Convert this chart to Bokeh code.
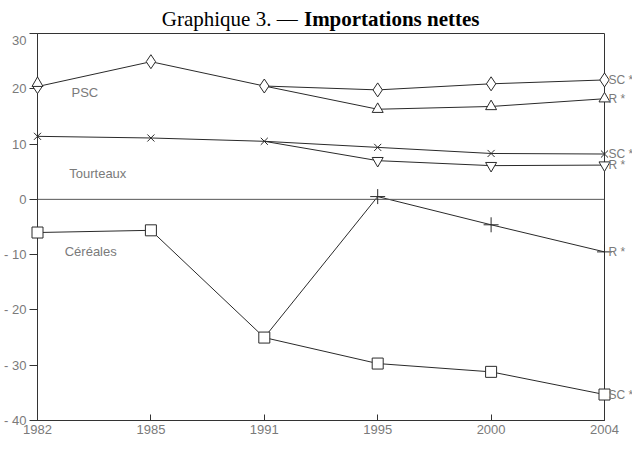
from bokeh.plotting import figure
from bokeh.models import (ColumnDataSource, FixedTicker, Label, Span, Range1d)
from bokeh.core.properties import value
from bokeh.layouts import column
from bokeh.embed import file_html
from bokeh.resources import INLINE

nan = float("nan")

years = ["1982", "1985", "1991", "1995", "2000", "2004"]
y_ticks = [30, 20, 10, 0, -10, -20, -30, -40]
y_tick_labels = ["30", "20", "10", "0", "- 10", "- 20", "- 30", "- 40"]

psc_sc = [20.4, 24.9, 20.5, 19.8, 20.9, 21.6]
psc_r = [21.0, nan, 20.5, 16.3, 16.8, 18.2]
tourteaux_sc = [11.4, 11.1, 10.5, 9.4, 8.3, 8.2]
tourteaux_r = [nan, nan, 10.5, 7.0, 6.1, 6.2]
cereales_sc = [-6.0, -5.6, -25.0, -29.7, -31.2, -35.3]
cereales_r = [nan, nan, -25.0, 0.5, -4.6, -9.5]

group_names = ["PSC", "Tourteaux", "Céréales"]
group_label_x = [0.3, 0.28, 0.24]
group_label_y = [19.3, 4.7, -9.4]

title_normal = "Graphique 3. —"
title_bold = "Importations nettes"

idx = list(range(len(years)))
grey = "#7a7a7a"
line_col = "#2a2a2a"
W = 632

# ---- title strip ----
TH = 32
t = figure(width=W, height=TH, output_backend="svg", toolbar_location=None,
           x_range=Range1d(0, W), y_range=Range1d(0, TH),
           x_axis_location=None, y_axis_location=None,
           min_border=0, outline_line_color=None)
t.grid.visible = False
t.add_layout(Label(x=290, y=14, text=title_normal, text_align="right",
                   text_baseline="alphabetic", text_font="Liberation Serif",
                   text_font_size="21px", text_color="black"))
t.add_layout(Label(x=297, y=14, text=title_bold, text_align="left",
                   text_baseline="alphabetic", text_font="Liberation Serif",
                   text_font_size="21px", text_font_style="bold",
                   text_color="black"))

# ---- main chart ----
p = figure(width=W, height=436 - TH, output_backend="svg", toolbar_location=None,
           x_range=Range1d(0, len(years) - 1), y_range=Range1d(-40, 30),
           min_border_left=37, min_border_right=28, min_border_top=1,
           min_border_bottom=0)
p.outline_line_color = "#333333"
p.outline_line_width = 1
p.grid.visible = False

p.xaxis.ticker = FixedTicker(ticks=idx)
p.xaxis.major_label_overrides = {i: y for i, y in enumerate(years)}
p.yaxis.ticker = FixedTicker(ticks=y_ticks)
p.yaxis.major_label_overrides = {tk: l for tk, l in zip(y_ticks, y_tick_labels)}
for ax in (p.xaxis, p.yaxis):
    ax.axis_line_color = "#333333"
    ax.major_tick_line_color = "#333333"
    ax.minor_tick_line_color = None
    ax.major_label_text_font = "Liberation Sans"
    ax.major_label_text_font_size = "13px"
    ax.major_label_text_color = grey
    ax.axis_label_standoff = 0
p.xaxis.major_tick_in = 6
p.xaxis.major_tick_out = 0
p.xaxis.major_label_standoff = 4
p.yaxis.major_tick_in = 0
p.yaxis.major_tick_out = 8
p.yaxis.major_label_standoff = 3

p.add_layout(Span(location=0, dimension="width", line_color="#555555", line_width=1))


def series(vals, marker, size, base=None):
    src = ColumnDataSource(dict(x=idx, y=vals))
    p.line("x", "y", source=src, line_color=line_col, line_width=1)
    # markers only where a branch differs from its reference series
    if base is None:
        mvals = vals
    else:
        mvals = [v if v != b else nan for v, b in zip(vals, base)]
    msrc = ColumnDataSource(dict(x=idx, y=mvals))
    r = p.scatter("x", "y", source=msrc, marker=marker, size=size,
                  line_color=line_col, fill_color="white", line_width=1)
    r.level = "overlay"

series(psc_sc, "diamond", 14)
series(psc_r, "triangle", 11, base=psc_sc)
series(tourteaux_sc, "x", 10)
series(tourteaux_r, "inverted_triangle", 11, base=tourteaux_sc)
series(cereales_sc, "square", 11)
series(cereales_r, "cross", 15, base=cereales_sc)

# right-hand series labels at the last year
last = len(years) - 1
right_vals = [psc_sc[last], psc_r[last], tourteaux_sc[last], tourteaux_r[last],
              cereales_r[last], cereales_sc[last]]
right_tags = ["SC *", "R *", "SC *", "R *", "R *", "SC *"]
rsrc = ColumnDataSource(dict(x=[last] * len(right_vals), y=right_vals, t=right_tags))
rt = p.text("x", "y", text="t", source=rsrc, x_offset=4, text_baseline="middle",
            text_font=value("Liberation Sans"), text_font_size="12px",
            text_color=grey)
rt.level = "overlay"

for name, xx, yy in zip(group_names, group_label_x, group_label_y):
    p.add_layout(Label(x=xx, y=yy, text=name, text_font="Liberation Sans",
                       text_font_size="13px", text_color=grey,
                       text_baseline="middle"))

layout = column(t, p, spacing=0)
open("out.html", "w").write(file_html(layout, INLINE))
